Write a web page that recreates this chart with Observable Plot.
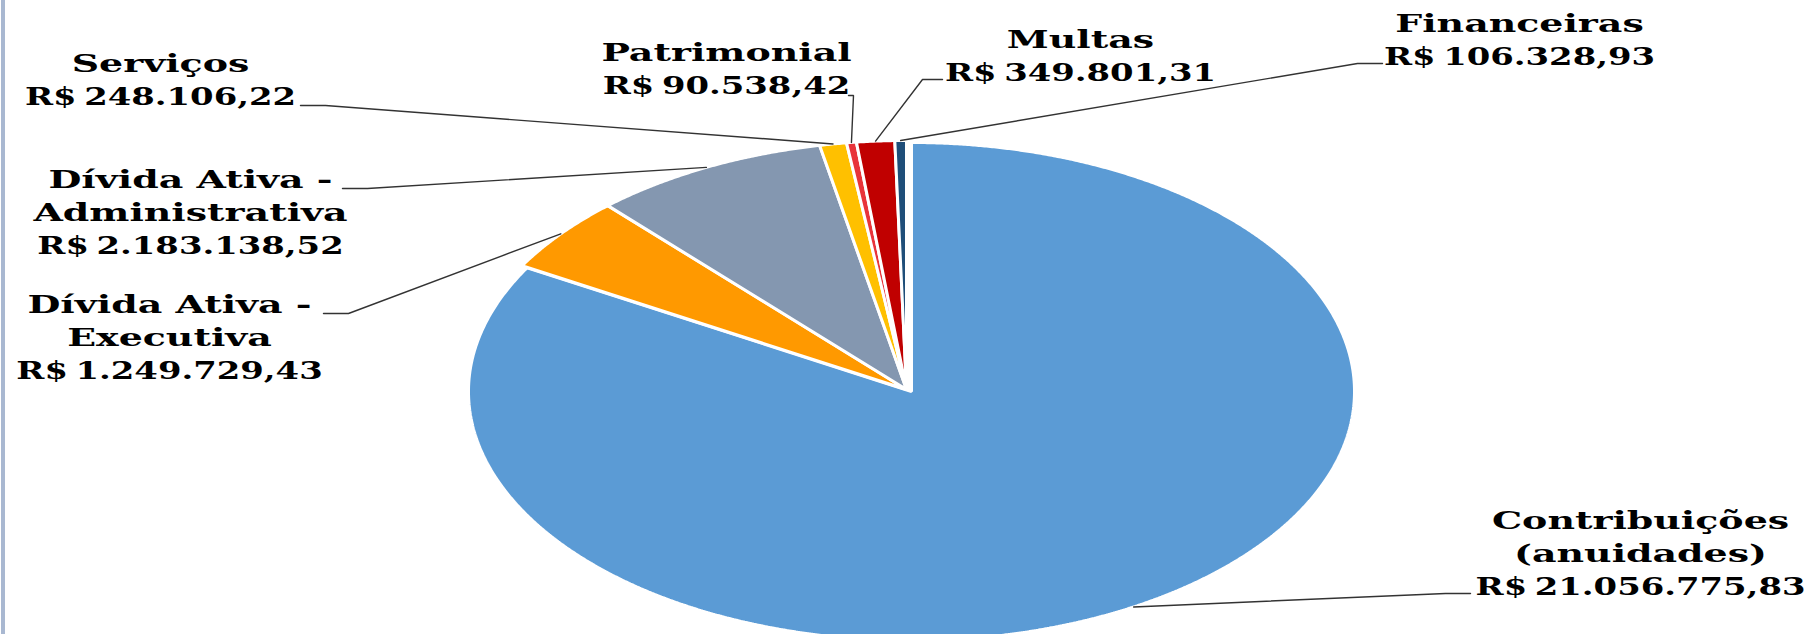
<!DOCTYPE html>
<html>
<head>
<meta charset="utf-8">
<script src="https://cdn.jsdelivr.net/npm/d3@7"></script>
<script src="https://cdn.jsdelivr.net/npm/@observablehq/plot@0.6"></script>
<style>
html, body { margin: 0; padding: 0; background: #fff; }
#wrap { position: relative; width: 1806px; height: 634px; overflow: hidden; }
#wrap::before { content: ""; position: absolute; left: 1px; top: 0; width: 4px; height: 634px; background: #A9B8D1; z-index: 1; }
svg { display: block; }
g.lbl-value text { word-spacing: -3px; }
</style>
</head>
<body>
<div id="wrap"></div>
<script>
// ---- data ----
const categories = ["Contribuições (anuidades)", "Dívida Ativa - Executiva", "Dívida Ativa - Administrativa", "Serviços", "Patrimonial", "Multas", "Financeiras"];
const labelNames = ["Contribuições\n(anuidades)", "Dívida Ativa -\nExecutiva", "Dívida Ativa -\nAdministrativa", "Serviços", "Patrimonial", "Multas", "Financeiras"];
const values = [21056775.83, 1249729.43, 2183138.52, 248106.22, 90538.42, 349801.31, 106328.93];
const colors = ["#5B9BD5", "#FF9900", "#8497B0", "#FFC000", "#E8343A", "#C00000", "#1F4E79"];

// ---- layout (pixels) ----
const pie = {cx: 906, cy: 389, rx: 443, ry: 249};
const sliceOffset = [[5, 2], [0, 0], [0, 0], [0, 0], [0, 0], [0, 0], [0, 0]];
// label anchor: center x, baseline of the value line
const labelX = [1640, 169, 190, 160, 726, 1080, 1519];
const labelY = [594, 378, 253, 104, 93, 80, 64];
const lineGap = 33;
// leader line: start point at label and elbow point
const leaderStart = [[1470, 593], [323, 313], [342, 188], [300, 105], [848, 95], [942, 79], [1382, 63]];
const leaderElbow = [[1445, 593], [348, 313], [367, 188], [325, 105], [853, 95], [922, 79], [1357, 63]];

const brl = d3.formatLocale({decimal: ",", thousands: ".", grouping: [3], currency: ["R$ ", ""]}).format("$,.2f");

const arcs = d3.pie().sort(null).value(d => d)(values);

function pt(a, ox, oy) {
  return [pie.cx + ox + pie.rx * Math.sin(a), pie.cy + oy - pie.ry * Math.cos(a)];
}

const slicePts = [];
const leaderPts = [];
arcs.forEach((arc, i) => {
  const mid = (arc.startAngle + arc.endAngle) / 2;
  const [ox, oy] = sliceOffset[i];
  const name = categories[i];
  slicePts.push({name, x: pie.cx + ox, y: pie.cy + oy});
  const n = Math.max(2, Math.ceil((arc.endAngle - arc.startAngle) / (Math.PI / 720)));
  for (let k = 0; k <= n; ++k) {
    const a = arc.startAngle + (arc.endAngle - arc.startAngle) * k / n;
    const [x, y] = pt(a, ox, oy);
    slicePts.push({name, x, y});
  }
  const [ex, ey] = pt(mid, ox, oy);
  leaderPts.push({name, x: leaderStart[i][0], y: leaderStart[i][1]});
  leaderPts.push({name, x: leaderElbow[i][0], y: leaderElbow[i][1]});
  leaderPts.push({name, x: ex, y: ey});
});

const nameLabels = categories.map((c, i) => ({name: c, text: labelNames[i], x: labelX[i], y: labelY[i] - lineGap}));
const valueLabels = categories.map((c, i) => ({name: c, text: brl(values[i]), x: labelX[i], y: labelY[i]}));

const textStyle = {x: "x", y: "y", text: "text", textAnchor: "middle", lineAnchor: "bottom", lineHeight: lineGap / 24,
  fontFamily: "DejaVu Serif", fontWeight: "bold", fontSize: 24, fill: "#000"};

const chart = Plot.plot({
  width: 1806,
  height: 634,
  margin: 0,
  x: {domain: [0, 1806], range: [0, 1806], axis: null},
  y: {domain: [0, 634], range: [0, 634], axis: null},
  color: {domain: categories, range: colors},
  style: {background: "transparent", overflow: "hidden"},
  marks: [
    Plot.line(slicePts, {x: "x", y: "y", z: "name", fill: "name", stroke: "white", strokeWidth: 3, curve: "linear-closed", strokeLinejoin: "miter"}),
    Plot.line(leaderPts, {x: "x", y: "y", z: "name", stroke: "#333", strokeWidth: 1.4, strokeLinejoin: "miter"}),
    Plot.text(nameLabels, {...textStyle, className: "lbl-name"}),
    Plot.text(valueLabels, {...textStyle, className: "lbl-value"})
  ]
});

document.getElementById("wrap").appendChild(chart);

// horizontal stretch of label glyphs (reference text is wide)
function stretchText(sel, k) {
  chart.querySelectorAll(sel + " text").forEach(t => {
    const tr = t.getAttribute("transform") || "";
    t.setAttribute("transform", tr + ` scale(${k},1)`);
  });
}
stretchText("g.lbl-name", 1.58);
stretchText("g.lbl-value", 1.41);
</script>
</body>
</html>
